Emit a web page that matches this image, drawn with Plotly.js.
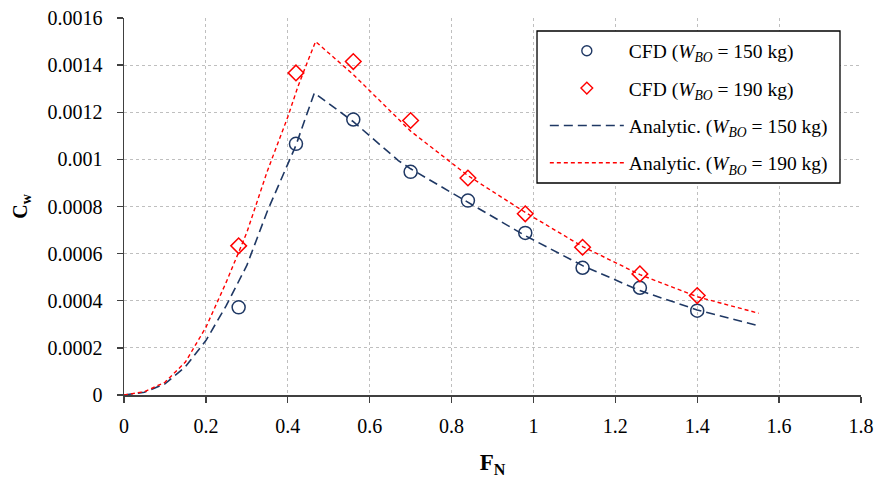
<!DOCTYPE html>
<html>
<head>
<meta charset="utf-8">
<script src="https://cdn.plot.ly/plotly-3.0.1.min.js"></script>
<style>html,body{margin:0;padding:0;background:#fff;}#chart{width:878px;height:478px;}</style>
</head>
<body>
<div id="chart"></div>
<script>
// CFD results
const fnCFD = [0.28, 0.42, 0.56, 0.70, 0.84, 0.98, 1.12, 1.26, 1.40];
const cw150CFD = [0.000372, 0.001066, 0.001169, 0.000947, 0.000825, 0.000688, 0.000540, 0.000455, 0.000358];
const cw190CFD = [0.000633, 0.001367, 0.001415, 0.001165, 0.000921, 0.000769, 0.000627, 0.000514, 0.000422];

// Analytic curves
const fnA150 = [0, 0.05, 0.1, 0.15, 0.2, 0.25, 0.3, 0.35, 0.4, 0.42, 0.44, 0.465, 0.56, 0.67, 0.70, 0.84, 0.98, 1.12, 1.26, 1.40, 1.55];
const cwA150 = [0, 0.000012, 0.000047, 0.00012, 0.000231, 0.00038, 0.00055, 0.00078, 0.00098, 0.00106, 0.00116, 0.001282, 0.00116, 0.000995, 0.00096, 0.000818, 0.000676, 0.000549, 0.000443, 0.000361, 0.000294];
const fnA190 = [0, 0.05, 0.1, 0.15, 0.2, 0.25, 0.3, 0.35, 0.4, 0.425, 0.445, 0.468, 0.56, 0.70, 0.84, 0.98, 1.12, 1.26, 1.40, 1.55];
const cwA190 = [0, 0.000014, 0.000054, 0.00014, 0.000287, 0.00048, 0.00069, 0.00095, 0.00118, 0.00131, 0.0014, 0.0015, 0.00136, 0.00112, 0.000931, 0.000775, 0.00063, 0.000511, 0.000417, 0.000347];

// Tick labels
const xTickVals = [0, 0.2, 0.4, 0.6, 0.8, 1, 1.2, 1.4, 1.6, 1.8];
const xTickText = ['0', '0.2', '0.4', '0.6', '0.8', '1', '1.2', '1.4', '1.6', '1.8'];
const yTickVals = [0, 0.0002, 0.0004, 0.0006, 0.0008, 0.001, 0.0012, 0.0014, 0.0016];
const yTickText = ['0', '0.0002', '0.0004', '0.0006', '0.0008', '0.001', '0.0012', '0.0014', '0.0016'];

const names = [
  'CFD (<i>W</i><sub><i>BO</i></sub> = 150 kg)',
  'CFD (<i>W</i><sub><i>BO</i></sub> = 190 kg)',
  'Analytic. (<i>W</i><sub><i>BO</i></sub> = 150 kg)',
  'Analytic. (<i>W</i><sub><i>BO</i></sub> = 190 kg)'
];

const navy = '#1F3864';
const red = '#FF0000';
const font = 'Liberation Serif, Times New Roman, serif';

const traces = [
  // data traces
  {x: fnCFD, y: cw150CFD, name: names[0], mode: 'markers', type: 'scatter', showlegend: false,
   marker: {symbol: 'circle-open', size: 13, color: navy, line: {width: 1.5, color: navy}}},
  {x: fnCFD, y: cw190CFD, name: names[1], mode: 'markers', type: 'scatter', showlegend: false,
   marker: {symbol: 'diamond-open', size: 12, color: red, line: {width: 1.5, color: red}}},
  {x: fnA150, y: cwA150, name: names[2], mode: 'lines', type: 'scatter', legendgroup: 'c',
   line: {color: navy, width: 1.6, dash: '9px,5px'}},
  {x: fnA190, y: cwA190, name: names[3], mode: 'lines', type: 'scatter', legendgroup: 'd',
   line: {color: red, width: 1.4, dash: '4px,3px'}},
  // legend entries for the CFD markers (smaller symbols, as in the reference legend)
  {x: [null], y: [null], name: names[0], mode: 'markers', type: 'scatter', legendgroup: 'a', legendrank: 1,
   marker: {symbol: 'circle-open', size: 10, color: navy, line: {width: 1.4, color: navy}}},
  {x: [null], y: [null], name: names[1], mode: 'markers', type: 'scatter', legendgroup: 'b', legendrank: 2,
   marker: {symbol: 'diamond-open', size: 9, color: red, line: {width: 1.4, color: red}}}
];
traces[2].legendrank = 3;
traces[3].legendrank = 4;

const layout = {
  width: 878, height: 478,
  margin: {l: 124, r: 17, t: 18, b: 83},
  paper_bgcolor: '#fff', plot_bgcolor: '#fff',
  font: {family: font, size: 20, color: '#000'},
  showlegend: true,
  legend: {
    x: 0.571, y: 0.964, xanchor: 'left', yanchor: 'top',
    bgcolor: 'rgba(0,0,0,0)', borderwidth: 0,
    font: {family: font, size: 19.5, color: '#000'},
    traceorder: 'grouped', tracegroupgap: 9, itemwidth: 74
  },
  shapes: [{
    type: 'rect', xref: 'paper', yref: 'paper',
    x0: 0.5604, x1: 0.9715, y0: 0.5623, y1: 0.9655,
    line: {color: '#000', width: 1.3}, fillcolor: '#fff', layer: 'above'
  }],
  xaxis: {
    range: [0, 1.8], tickvals: xTickVals, ticktext: xTickText,
    tickfont: {family: font, size: 20, color: '#000'},
    showline: true, linecolor: '#404040', linewidth: 1.5,
    ticks: 'outside', ticklen: 6, tickcolor: '#404040', tickwidth: 1.3,
    ticklabelstandoff: 6,
    showgrid: true, gridcolor: '#BFBFBF', gridwidth: 1, griddash: '3px,3px',
    zeroline: false,
    title: {text: '<b>F<sub>N</sub></b>', font: {family: font, size: 23}, standoff: 24}
  },
  yaxis: {
    range: [0, 0.0016], tickvals: yTickVals, ticktext: yTickText,
    tickfont: {family: font, size: 20, color: '#000'},
    showline: true, linecolor: '#404040', linewidth: 1.5,
    ticks: 'outside', ticklen: 6, tickcolor: '#404040', tickwidth: 1.3,
    ticklabelstandoff: 10,
    showgrid: true, gridcolor: '#BFBFBF', gridwidth: 1, griddash: '3px,3px',
    zeroline: false,
    title: {text: '<b>C<sub>w</sub></b>', font: {family: font, size: 20}, standoff: 14}
  }
};

Plotly.newPlot('chart', traces, layout, {displayModeBar: false, staticPlot: true});
</script>
</body>
</html>
